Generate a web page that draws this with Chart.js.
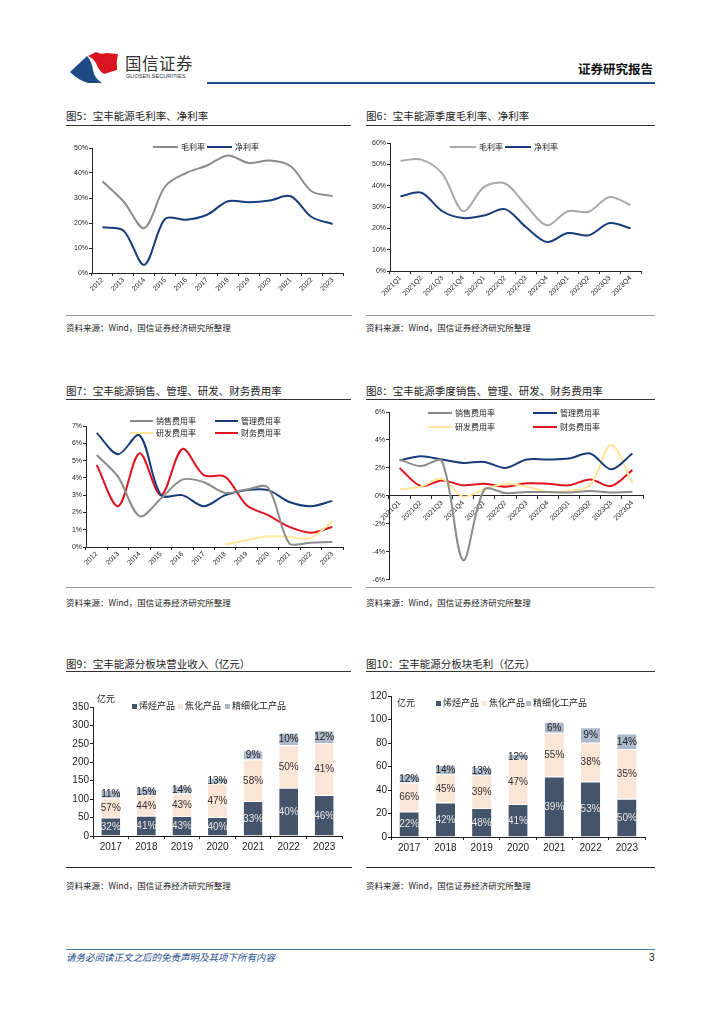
<!DOCTYPE html>
<html lang="zh-CN">
<head>
<meta charset="utf-8">
<title>宝丰能源 财务图表</title>
<script src="https://cdn.jsdelivr.net/npm/chart.js@4.4.1/dist/chart.umd.min.js"></script>
<style>
  html, body { margin: 0; padding: 0; background: #fff; }
  #page { position: relative; width: 724px; height: 1024px; overflow: hidden;
          font-family: 'Noto Sans CJK SC', 'Liberation Sans', sans-serif; color: #222; }
  .abs { position: absolute; white-space: nowrap; }
  .title { font-size: 10.5px; line-height: 12px; color: #222; font-weight: 400; }
  .src { font-size: 8.5px; line-height: 12px; color: #222; }
  .rule { position: absolute; height: 0; }
  canvas { position: absolute; }
  .lg { position: absolute; display: flex; align-items: center; white-space: nowrap;
        font-size: 8px; line-height: 14px; color: #222; }
</style>
</head>
<body>
<div id="page">
  <!-- header -->
  <svg class="abs" style="left:68px;top:50px" width="54" height="36" viewBox="0 0 54 36">
    <path d="M2,22 L19,6 Q24,12 25,20 Q26,28 34,33 L20,33 Q10,30 2,22 Z" fill="#1b4a85"/>
    <path d="M20,6 L28,2 Q33,5 38,3 L50,4 Q48,12 49,20 L36,24 Q30,20 28,13 Q25,8 20,6 Z" fill="#d7141f"/>
  </svg>
  <div class="abs" style="left:125px;top:53px;font-size:16.5px;line-height:20px;color:#333;letter-spacing:0.5px">国信证券</div>
  <div class="abs" style="left:126px;top:73px;font-size:5.6px;line-height:7px;color:#333;font-family:'Liberation Sans',sans-serif">GUOSEN SECURITIES</div>
  <div class="abs" style="left:578px;top:61px;font-size:12.5px;line-height:16px;font-weight:bold;color:#111">证券研究报告</div>
  <div class="rule" style="left:207px;top:82px;width:448px;border-top:2.5px solid #1f4e8c"></div>

  <!-- section titles -->
  <div class="abs title" style="left:66px;top:110px">图5：宝丰能源毛利率、净利率</div>
  <div class="rule" style="left:66px;top:125px;width:285px;border-top:1px solid #333"></div>
  <div class="abs title" style="left:366px;top:110px">图6：宝丰能源季度毛利率、净利率</div>
  <div class="rule" style="left:366px;top:125px;width:289px;border-top:1px solid #333"></div>

  <div class="abs title" style="left:66px;top:385px">图7：宝丰能源销售、管理、研发、财务费用率</div>
  <div class="rule" style="left:66px;top:399px;width:285px;border-top:1px solid #333"></div>
  <div class="abs title" style="left:366px;top:385px">图8：宝丰能源季度销售、管理、研发、财务费用率</div>
  <div class="rule" style="left:366px;top:399px;width:289px;border-top:1px solid #333"></div>

  <div class="abs title" style="left:66px;top:658px">图9：宝丰能源分板块营业收入（亿元）</div>
  <div class="rule" style="left:66px;top:671px;width:285px;border-top:1px solid #333"></div>
  <div class="abs title" style="left:366px;top:658px">图10：宝丰能源分板块毛利（亿元）</div>
  <div class="rule" style="left:366px;top:671px;width:289px;border-top:1px solid #333"></div>

  <!-- bottom rules + sources -->
  <div class="rule" style="left:66px;top:315px;width:286px;border-top:1px solid #999"></div>
  <div class="rule" style="left:366px;top:315px;width:289px;border-top:1px solid #999"></div>
  <div class="abs src" style="left:66px;top:321px">资料来源：Wind，国信证券经济研究所整理</div>
  <div class="abs src" style="left:366px;top:321px">资料来源：Wind，国信证券经济研究所整理</div>

  <div class="rule" style="left:66px;top:587px;width:286px;border-top:1px solid #999"></div>
  <div class="rule" style="left:366px;top:587px;width:289px;border-top:1px solid #999"></div>
  <div class="abs src" style="left:66px;top:596px">资料来源：Wind，国信证券经济研究所整理</div>
  <div class="abs src" style="left:366px;top:596px">资料来源：Wind，国信证券经济研究所整理</div>

  <div class="rule" style="left:66px;top:867px;width:286px;border-top:1px solid #222"></div>
  <div class="rule" style="left:366px;top:867px;width:289px;border-top:1px solid #222"></div>
  <div class="abs src" style="left:66px;top:879px">资料来源：Wind，国信证券经济研究所整理</div>
  <div class="abs src" style="left:366px;top:879px">资料来源：Wind，国信证券经济研究所整理</div>

  <!-- footer -->
  <div class="rule" style="left:66px;top:949px;width:589px;border-top:1px solid #4a77a8"></div>
  <div class="abs" style="left:66px;top:951px;font-size:9.5px;line-height:13px;font-style:italic;color:#1f4e8c">请务必阅读正文之后的免责声明及其项下所有内容</div>
  <div class="abs" style="left:649px;top:951px;font-size:10px;line-height:13px;color:#111;font-family:'Liberation Sans',sans-serif">3</div>

  <canvas id="c5"></canvas>
  <canvas id="c6"></canvas>
  <canvas id="c7"></canvas>
  <canvas id="c8"></canvas>
  <canvas id="c9"></canvas>
  <canvas id="c10"></canvas>
</div>

<script>
// ---- data ----
const years = ['2012', '2013', '2014', '2015', '2016', '2017', '2018', '2019', '2020', '2021', '2022', '2023'];
const quarters = ['2021Q1', '2021Q2', '2021Q3', '2021Q4', '2022Q1', '2022Q2', '2022Q3', '2022Q4',
                  '2023Q1', '2023Q2', '2023Q3', '2023Q4'];
const barYears = ['2017', '2018', '2019', '2020', '2021', '2022', '2023'];

const marginNames = ['毛利率', '净利率'];
const feeNames = ['销售费用率', '管理费用率', '研发费用率', '财务费用率'];
const segNames = ['烯烃产品', '焦化产品', '精细化工产品'];

// 图5 (%)
const grossMargin = [36.7, 28.7, 18.0, 34.7, 40.0, 43.0, 47.0, 44.0, 45.0, 42.7, 32.7, 30.7];
const netMargin = [18.3, 17.0, 3.3, 21.7, 21.3, 23.3, 28.7, 28.3, 29.0, 30.7, 22.4, 19.6];

// 图6 (%)
const qGrossMargin = [51.7, 52.2, 45.6, 28.0, 39.4, 41.0, 30.8, 21.4, 28.0, 27.8, 34.7, 31.0];
const qNetMargin = [35.0, 36.7, 28.0, 24.8, 26.0, 29.0, 20.6, 13.6, 17.8, 16.7, 22.5, 20.0];

// 图7 (%)
const salesFee = [5.32, 4.06, 1.78, 2.8, 3.9, 3.75, 3.13, 3.33, 3.44, 0.19, 0.25, 0.29];
const adminFee = [6.6, 5.37, 6.47, 3.0, 3.0, 2.36, 3.0, 3.29, 3.29, 2.6, 2.36, 2.67];
const rndFee = [null, null, null, null, null, null, 0.15, 0.39, 0.62, 0.58, 0.52, 1.49];
const finFee = [4.74, 2.36, 5.42, 3.0, 5.67, 4.16, 4.06, 2.42, 1.84, 1.16, 0.83, 1.16];

// 图8 (%)
const qSalesFee = [2.6, 2.13, 2.48, -4.6, 0.45, 0.2, 0.28, 0.28, 0.24, 0.35, 0.24, 0.3];
const qAdminFee = [2.53, 2.84, 2.6, 2.36, 2.43, 2.0, 2.6, 2.6, 2.67, 3.03, 1.9, 3.03];
const qRndFee = [0.47, 0.66, 1.23, -0.05, 0.47, 0.87, 0.66, 0.28, 0.35, 0.76, 3.66, 0.9];
const qFinFee = [2.0, 0.71, 1.11, 0.76, 0.87, 0.66, 0.9, 0.87, 0.76, 1.18, 0.71, 1.84];

// 图9 营业收入 (亿元)
const revOlefin = [50.5, 55.0, 54.0, 51.4, 94.7, 130.8, 111.0];
const revCoking = [53.2, 56.0, 61.5, 91.1, 112.8, 115.2, 141.6];
const revFine = [20.8, 20.7, 20.5, 16.3, 25.2, 34.5, 34.2];
const revOlefinPct = ['32%', '41%', '43%', '40%', '33%', '40%', '46%'];
const revCokingPct = ['57%', '44%', '43%', '47%', '58%', '50%', '41%'];
const revFinePct = ['11%', '15%', '14%', '13%', '9%', '10%', '12%'];

// 图10 毛利 (亿元)
const gpOlefin = [21.7, 29.4, 24.6, 28.0, 51.4, 47.2, 32.5];
const gpCoking = [24.6, 24.0, 28.2, 38.3, 37.3, 33.0, 42.3];
const gpFine = [7.1, 7.9, 6.8, 4.3, 9.3, 13.3, 13.2];
const gpOlefinPct = ['22%', '42%', '48%', '41%', '39%', '53%', '50%'];
const gpCokingPct = ['66%', '45%', '39%', '47%', '55%', '38%', '35%'];
const gpFinePct = ['12%', '14%', '13%', '12%', '6%', '9%', '14%'];

// ---- colours ----
const GRAY = '#8c8c8c';
const LIGHT_GRAY = '#a9a9a9';
const NAVY = '#163d7a';
const YELLOW = '#ffe699';
const RED = '#e0141e';
const SLATE = '#44546a';
const PEACH = '#fbe5d6';
const STEEL = '#adb9ca';

Chart.defaults.font.family = "'Liberation Sans', 'Noto Sans CJK SC', sans-serif";
Chart.defaults.color = '#222';
Chart.defaults.animation = false;

const page = document.getElementById('page');

// put canvas at box {x,y,w,h} and return layout so that the plot area lands on plot {l,t,r,b}
function place(id, box, plot) {
    const cv = document.getElementById(id);
    cv.width = box.w; cv.height = box.h;
    cv.style.left = box.x + 'px'; cv.style.top = box.y + 'px';
    cv.style.width = box.w + 'px'; cv.style.height = box.h + 'px';
    return {
        ctx: cv,
        pad: { left: 0, top: plot.t - box.y, right: box.x + box.w - plot.r, bottom: 0 },
        yW: plot.l - box.x,
        xH: box.y + box.h - plot.b
    };
}

function lineChart(id, box, plot, labels, datasets, y) {
    const p = place(id, box, plot);
    return new Chart(p.ctx, {
        type: 'line',
        data: { labels: labels, datasets: datasets },
        options: {
            responsive: false,
            layout: { padding: p.pad },
            plugins: { legend: { display: false }, tooltip: { enabled: false } },
            elements: { point: { radius: 0 }, line: { tension: 0.32, borderWidth: 2 } },
            scales: {
                x: {
                    offset: true,
                    position: y.zeroAxis ? { y: 0 } : 'bottom',
                    grid: { offset: true, drawOnChartArea: false, tickLength: 3, color: '#222' },
                    border: { color: '#222' },
                    ticks: { minRotation: 45, maxRotation: 45, autoSkip: false, padding: 0,
                             font: { size: 7 }, color: '#222' },
                    afterFit: s => { s.height = y.zeroAxis ? 0 : p.xH; }
                },
                y: {
                    min: y.min, max: y.max,
                    grid: { drawOnChartArea: false, tickLength: 3, color: '#222' },
                    border: { color: '#222' },
                    ticks: { stepSize: y.step, padding: 1, font: { size: 7 }, color: '#222',
                             callback: v => v + '%' },
                    afterFit: s => { s.width = p.yW; }
                }
            }
        }
    });
}

// percentage text drawn in the middle of each stacked segment
const segLabels = {
    id: 'segLabels',
    afterDatasetsDraw(chart) {
        const ctx = chart.ctx;
        ctx.save();
        ctx.font = "10px 'Liberation Sans', sans-serif";
        ctx.textAlign = 'center';
        ctx.textBaseline = 'middle';
        chart.data.datasets.forEach((ds, i) => {
            const meta = chart.getDatasetMeta(i);
            ctx.fillStyle = ds.labelColor;
            meta.data.forEach((bar, j) => {
                const pr = bar.getProps(['x', 'y', 'base'], true);
                ctx.fillText(ds.pctText[j], pr.x, (pr.y + pr.base) / 2 + 0.5);
            });
        });
        ctx.restore();
    }
};

function barChart(id, box, plot, seg, pct, y) {
    const p = place(id, box, plot);
    const colors = [SLATE, PEACH, STEEL];
    const textColors = ['#e6e6e6', '#333', '#222'];
    return new Chart(p.ctx, {
        type: 'bar',
        data: {
            labels: barYears,
            datasets: seg.map((d, i) => ({
                label: segNames[i],
                data: d,
                backgroundColor: colors[i],
                borderColor: '#fff',
                borderWidth: { top: 1 },
                borderSkipped: false,
                pctText: pct[i],
                labelColor: textColors[i]
            }))
        },
        options: {
            responsive: false,
            layout: { padding: p.pad },
            plugins: { legend: { display: false }, tooltip: { enabled: false } },
            datasets: { bar: { barPercentage: 0.53, categoryPercentage: 1 } },
            scales: {
                x: {
                    stacked: true,
                    grid: { drawOnChartArea: false, tickLength: 3, color: '#222' },
                    border: { color: '#222' },
                    ticks: { padding: 2, font: { size: 10 }, color: '#222' },
                    afterFit: s => { s.height = p.xH; }
                },
                y: {
                    stacked: true, min: 0, max: y.max,
                    grid: { drawOnChartArea: false, tickLength: 3, color: '#222' },
                    border: { color: '#222' },
                    ticks: { stepSize: y.step, padding: 1, font: { size: 10 }, color: '#222' },
                    afterFit: s => { s.width = p.yW; }
                }
            }
        },
        plugins: [segLabels]
    });
}

function lineLegend(items, yc, lineW) {
    items.forEach(it => {
        const d = document.createElement('div');
        d.className = 'lg';
        d.style.left = it.x + 'px';
        d.style.top = (yc - 7) + 'px';
        d.innerHTML = `<span style="display:inline-block;width:${lineW}px;height:2px;background:${it.color};margin-right:3px"></span><span>${it.label}</span>`;
        page.appendChild(d);
    });
}

function boxLegend(items, yc) {
    items.forEach(it => {
        const d = document.createElement('div');
        d.className = 'lg';
        d.style.left = it.x + 'px';
        d.style.top = (yc - 7) + 'px';
        d.style.fontSize = '9px';
        d.innerHTML = `<span style="display:inline-block;width:5px;height:5px;background:${it.color};margin-right:2px"></span><span>${it.label}</span>`;
        page.appendChild(d);
    });
}

function unitLabel(x, yc) {
    const d = document.createElement('div');
    d.className = 'abs';
    d.style.cssText = `left:${x}px;top:${yc - 7}px;font-size:9px;line-height:14px;color:#222`;
    d.textContent = '亿元';
    page.appendChild(d);
}

// 图5
lineChart('c5', { x: 62, y: 138, w: 290, h: 172 }, { l: 92, t: 148, r: 343, b: 273 }, years, [
    { label: marginNames[0], data: grossMargin, borderColor: GRAY },
    { label: marginNames[1], data: netMargin, borderColor: NAVY }
], { min: 0, max: 50, step: 10 });
lineLegend([{ x: 153, label: marginNames[0], color: GRAY },
            { x: 207, label: marginNames[1], color: NAVY }], 147, 25);

// 图6
lineChart('c6', { x: 362, y: 132, w: 295, h: 178 }, { l: 390, t: 143, r: 641, b: 271 }, quarters, [
    { label: marginNames[0], data: qGrossMargin, borderColor: LIGHT_GRAY },
    { label: marginNames[1], data: qNetMargin, borderColor: NAVY }
], { min: 0, max: 60, step: 10 });
lineLegend([{ x: 450, label: marginNames[0], color: LIGHT_GRAY },
            { x: 505, label: marginNames[1], color: NAVY }], 147, 26);

// 图7
lineChart('c7', { x: 60, y: 416, w: 292, h: 169 }, { l: 86, t: 426, r: 343, b: 547 }, years, [
    { label: feeNames[0], data: salesFee, borderColor: GRAY },
    { label: feeNames[1], data: adminFee, borderColor: NAVY },
    { label: feeNames[2], data: rndFee, borderColor: YELLOW },
    { label: feeNames[3], data: finFee, borderColor: RED }
], { min: 0, max: 7, step: 1 });
lineLegend([{ x: 130, label: feeNames[0], color: GRAY },
            { x: 215, label: feeNames[1], color: NAVY }], 421, 23);
lineLegend([{ x: 130, label: feeNames[2], color: YELLOW },
            { x: 215, label: feeNames[3], color: RED }], 433, 23);

// 图8
lineChart('c8', { x: 360, y: 402, w: 297, h: 183 }, { l: 389, t: 412, r: 643, b: 581 }, quarters, [
    { label: feeNames[0], data: qSalesFee, borderColor: GRAY },
    { label: feeNames[1], data: qAdminFee, borderColor: NAVY },
    { label: feeNames[2], data: qRndFee, borderColor: YELLOW },
    { label: feeNames[3], data: qFinFee, borderColor: RED }
], { min: -6, max: 6, step: 2, zeroAxis: true });
lineLegend([{ x: 428, label: feeNames[0], color: GRAY },
            { x: 533, label: feeNames[1], color: NAVY }], 413, 24);
lineLegend([{ x: 428, label: feeNames[2], color: YELLOW },
            { x: 533, label: feeNames[3], color: RED }], 427, 24);

// 图9
barChart('c9', { x: 60, y: 696, w: 292, h: 166 }, { l: 93, t: 707, r: 342, b: 836 },
    [revOlefin, revCoking, revFine], [revOlefinPct, revCokingPct, revFinePct], { max: 350, step: 50 });
unitLabel(97, 699);
boxLegend([{ x: 132, label: segNames[0], color: SLATE },
           { x: 178, label: segNames[1], color: PEACH },
           { x: 225, label: segNames[2], color: STEEL }], 706);

// 图10
barChart('c10', { x: 360, y: 685, w: 297, h: 177 }, { l: 391, t: 696, r: 645, b: 837 },
    [gpOlefin, gpCoking, gpFine], [gpOlefinPct, gpCokingPct, gpFinePct], { max: 120, step: 20 });
unitLabel(397, 703);
boxLegend([{ x: 436, label: segNames[0], color: SLATE },
           { x: 482, label: segNames[1], color: PEACH },
           { x: 526, label: segNames[2], color: STEEL }], 703);
</script>
</body>
</html>
